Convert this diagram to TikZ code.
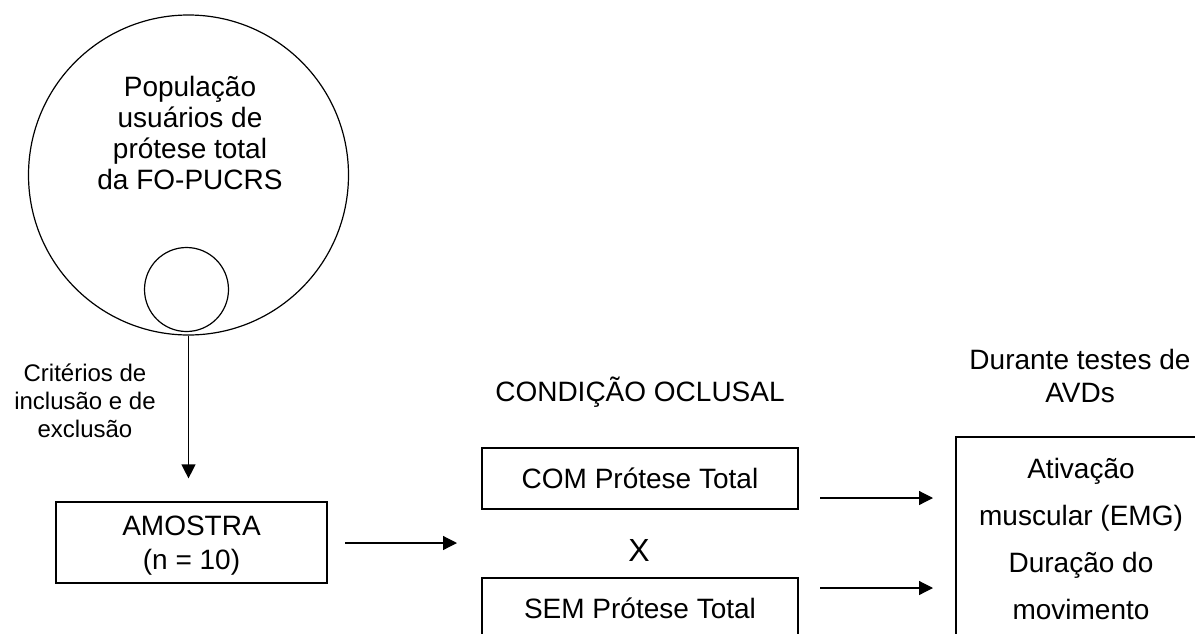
\documentclass[tikz,border=0pt]{standalone}
\usepackage{fontspec}
\setmainfont{Liberation Sans}
\usetikzlibrary{arrows.meta}

\begin{document}
\begin{tikzpicture}[x=0.5pt,y=-0.5pt,line width=0.6pt,
    every node/.style={align=center,inner sep=0pt},
    caixa/.style={draw,rectangle,minimum width=158pt,minimum height=30.5pt,font=\fontsize{14}{16}\selectfont},
    rotulo/.style={font=\fontsize{14}{16.5}\selectfont},
    seta/.style={-{Triangle[length=7pt,width=7pt]}}]

      \useasboundingbox (0,0) rectangle (1195,633);

      \node[circle,draw,minimum size=160pt] (pop) at (188.5,175) {};
      \node[rotulo,font=\fontsize{14}{15.5}\selectfont] (poptxt) at (190,133) {População\\usuários de\\prótese total\\da FO-PUCRS};
      \node[circle,draw,minimum size=42pt] (subpop) at (186.5,289.5) {};

      \node[draw,rectangle,minimum width=135.5pt,minimum height=40.5pt] (amostra) at (191.5,542.5) {};
      \node[font=\fontsize{14}{17}\selectfont] (amostratxt) at (191.5,546) {AMOSTRA\\(n = 10)};
        \draw[seta,shorten >=11.5pt] (pop.south) -- (pop.south |- amostra.north);
      \node[font=\fontsize{12}{14}\selectfont] (criterios) at (85,401) {Critérios de\\inclusão e de\\exclusão};

      \node[rotulo] (condicao) at (640,392) {CONDIÇÃO OCLUSAL};
      \node[caixa] (com) at (640,478.5) {COM Prótese Total};
      \node[font=\fontsize{16}{18}\selectfont] (vs) at (639,550) {X};
      \node[caixa] (sem) at (640,608.5) {SEM Prótese Total};

      \coordinate (amostraout) at (345,543);
      \coordinate (amostrain) at (457,543);
        \draw[seta] (amostraout) -- (amostrain);

      \node[rotulo] (durante) at (1080,376) {Durante testes de\\AVDs};
      \node[draw,rectangle,minimum width=125pt,minimum height=102pt,
            font=\fontsize{14}{23.5}\selectfont] (desfecho) at (1081,539) {Ativação\\muscular (EMG)\\Duração do\\movimento};

      \coordinate (comout) at (820,498);
      \coordinate (comin) at (933,498);
        \draw[seta] (comout) -- (comin);
      \coordinate (semout) at (820,588);
      \coordinate (semin) at (933,588);
        \draw[seta] (semout) -- (semin);

    \end{tikzpicture}
\end{document}
